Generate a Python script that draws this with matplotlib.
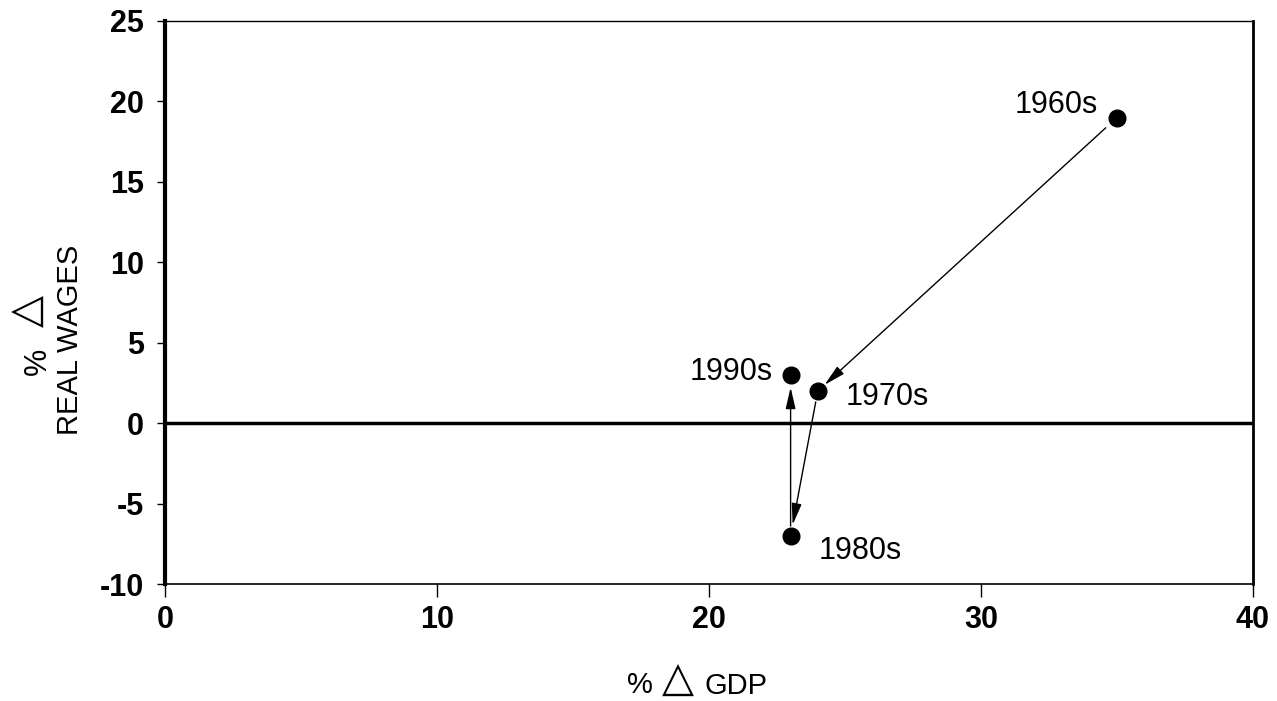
import matplotlib
matplotlib.use("Agg")
import matplotlib.pyplot as plt

decades = ["1960s", "1970s", "1980s", "1990s"]
gdp_change = [35, 24, 23, 23]
wage_change = [19, 2, -7, 3]
x_ticks = [0, 10, 20, 30, 40]
y_ticks = [-10, -5, 0, 5, 10, 15, 20, 25]

FAM = ["Liberation Sans", "DejaVu Sans"]
plt.rcParams["font.family"] = FAM
plt.rcParams["axes.unicode_minus"] = False

W, H = 1277, 701
fig = plt.figure(figsize=(W / 100, H / 100), dpi=100)
ax = fig.add_axes([165 / W, 1 - 584 / H, (1253 - 165) / W, (584 - 21) / H])

ax.set_xlim(0, 40)
ax.set_ylim(-10, 25)
ax.set_xticks(x_ticks)
ax.set_yticks(y_ticks)
ax.tick_params(axis="x", direction="out", length=9, width=1, labelsize=22, pad=6)
ax.tick_params(axis="y", direction="out", length=6, width=1, labelsize=22, pad=9)
for lab in ax.get_xticklabels() + ax.get_yticklabels():
    lab.set_fontweight("bold")

ax.spines["left"].set_linewidth(3)
ax.spines["right"].set_linewidth(2)
ax.spines["top"].set_linewidth(1)
ax.spines["bottom"].set_linewidth(1.2)

ax.axhline(0, color="black", lw=2.5, zorder=1)

ax.plot(gdp_change, wage_change, "o", color="black", markersize=12, zorder=3)

# arrows: 1960s -> 1970s -> 1980s -> 1990s
shrinks = [(11, 6.5), (8, 8), (7, 9)]
for i in range(len(decades) - 1):
    sa, sb = shrinks[i]
    ax.annotate("", xy=(gdp_change[i + 1], wage_change[i + 1]),
                xytext=(gdp_change[i], wage_change[i]),
                arrowprops=dict(arrowstyle="-|>,head_length=0.65,head_width=0.15",
                                mutation_scale=20, lw=1, color="black",
                                shrinkA=sa, shrinkB=sb),
                zorder=2)

offsets = {"1960s": (-14, 3.6, "right"),
           "1970s": (20, -10, "left"),
           "1980s": (20, -16.6, "left"),
           "1990s": (-13, -3.6, "right")}
for name, x, y in zip(decades, gdp_change, wage_change):
    dx, dy, ha = offsets[name]
    ax.annotate(name, (x, y), xytext=(dx, dy), textcoords="offset points",
                ha=ha, va="baseline", fontsize=22)

# x-axis label: "% △ GDP"
fig.text(640 / W, 1 - 693 / H, "%", fontsize=21, ha="center", va="baseline")
fig.text(678 / W, 1 - 680 / H, "\u25B3", fontsize=30, ha="center", va="center",
         family="DejaVu Sans")
fig.text(705 / W, 1 - 694 / H, "GDP", fontsize=21, ha="left", va="baseline")

# y-axis label: "% △" over "REAL WAGES" (rotated)
fig.text(78 / W, 1 - 340 / H, "REAL WAGES", fontsize=21, rotation=90,
         rotation_mode="anchor", ha="center", va="baseline")
fig.text(46 / W, 1 - 361 / H, "%", fontsize=22, rotation=90,
         rotation_mode="anchor", ha="center", va="baseline")
fig.text(28 / W, 1 - 311 / H, "\u25B3", fontsize=30, rotation=90,
         rotation_mode="anchor", ha="center", va="center", family="DejaVu Sans")

fig.savefig("out.png", dpi=100)
